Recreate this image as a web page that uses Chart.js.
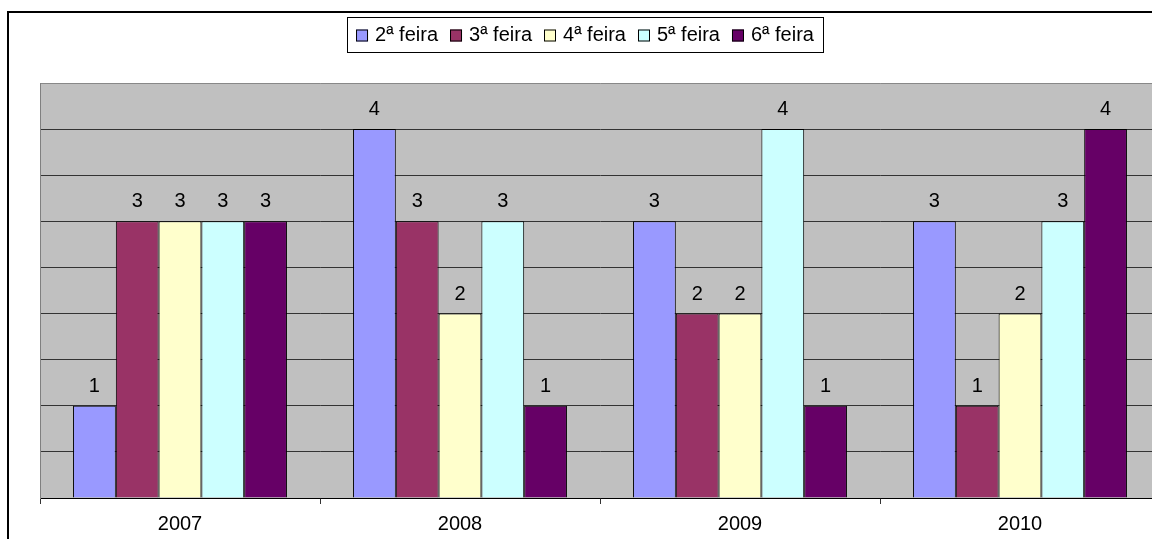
<!DOCTYPE html>
<html>
<head>
<meta charset="utf-8">
<script src="https://cdn.jsdelivr.net/npm/chart.js@4/dist/chart.umd.min.js"></script>
<style>
  html, body { margin: 0; padding: 0; background: #fff; overflow: hidden; }
  #frame { position: absolute; left: 7px; top: 11px; width: 1400px; height: 800px; border: 2px solid #000; }
  #chart { position: absolute; left: 0; top: 0; }
</style>
</head>
<body>
<div id="frame"></div>
<canvas id="chart" width="1200" height="560"></canvas>
<script>
const years = ['2007', '2008', '2009', '2010'];
const seriesNames = ['2ª feira', '3ª feira', '4ª feira', '5ª feira', '6ª feira'];
const segunda = [1, 4, 3, 3];
const terca = [3, 3, 2, 1];
const quarta = [3, 2, 2, 2];
const quinta = [3, 3, 4, 3];
const sexta = [3, 1, 1, 4];
const colors = ['#9999FF', '#993366', '#FFFFCC', '#CCFFFF', '#660066'];

const FONT = '"Liberation Sans", Arial, sans-serif';

const plotBg = {
  id: 'plotBg',
  beforeDraw(chart) {
    const { ctx, chartArea: a } = chart;
    ctx.save();
    ctx.fillStyle = '#C0C0C0';
    ctx.fillRect(a.left, a.top, a.right - a.left, a.bottom - a.top);
    ctx.restore();
  }
};

const barValues = {
  id: 'barValues',
  afterDatasetsDraw(chart) {
    const ctx = chart.ctx;
    ctx.save();
    ctx.font = '20px ' + FONT;
    ctx.fillStyle = '#000';
    ctx.textAlign = 'center';
    ctx.textBaseline = 'alphabetic';
    chart.data.datasets.forEach((ds, i) => {
      chart.getDatasetMeta(i).data.forEach((bar, j) => {
        ctx.fillText(ds.data[j], bar.x, bar.y - 14);
      });
    });
    ctx.restore();
  }
};

// legend with a border, like the spreadsheet one
const boxLegend = {
  id: 'boxLegend',
  afterDraw(chart) {
    const ctx = chart.ctx;
    const boxX = 347, boxY = 17, boxW = 476, boxH = 35;
    ctx.save();
    ctx.font = '20px ' + FONT;
    const gap = 12, sq = 12, sqGap = 7;
    const items = chart.data.datasets.map(ds => ({ label: ds.label, color: ds.backgroundColor, w: ctx.measureText(ds.label).width }));
    const total = items.reduce((s, it) => s + sq + sqGap + it.w, 0) + gap * (items.length - 1);
    ctx.fillStyle = '#fff';
    ctx.fillRect(boxX, boxY, boxW, boxH);
    ctx.strokeStyle = '#000';
    ctx.lineWidth = 1;
    ctx.strokeRect(boxX + 0.5, boxY + 0.5, boxW, boxH);
    let x = boxX + (boxW - total) / 2;
    const cy = boxY + boxH / 2 + 1;
    ctx.textBaseline = 'middle';
    items.forEach(it => {
      ctx.fillStyle = it.color;
      ctx.fillRect(x, cy - sq / 2, sq, sq);
      ctx.strokeStyle = '#000';
      ctx.strokeRect(x + 0.5, cy - sq / 2 + 0.5, sq - 1, sq - 1);
      ctx.fillStyle = '#000';
      ctx.fillText(it.label, x + sq + sqGap, cy);
      x += sq + sqGap + it.w + gap;
    });
    ctx.restore();
  }
};

const values = [segunda, terca, quarta, quinta, sexta];

new Chart(document.getElementById('chart'), {
  type: 'bar',
  data: {
    labels: years,
    datasets: seriesNames.map((name, i) => ({
      label: name,
      data: values[i],
      backgroundColor: colors[i],
      borderColor: '#000',
      borderWidth: 1,
      categoryPercentage: 0.764,
      barPercentage: 1
    }))
  },
  options: {
    responsive: false,
    animation: false,
    devicePixelRatio: 1,
    layout: { padding: { top: 83, left: 40, right: 40, bottom: 16 } },
    plugins: {
      legend: { display: false },
      tooltip: { enabled: false }
    },
    scales: {
      x: {
        grid: { drawOnChartArea: false, drawTicks: true, tickLength: 6, color: '#333', offset: true },
        border: { color: '#000', width: 1 },
        ticks: { color: '#000', font: { family: FONT, size: 20 }, padding: 8 }
      },
      y: {
        min: 0,
        max: 4.5,
        ticks: { stepSize: 0.5, display: false },
        grid: {
          drawTicks: false,
          color: c => c.tick && c.tick.value === 4.5 ? '#888' : '#333'
        },
        border: { color: '#808080' }
      }
    }
  },
  plugins: [plotBg, barValues, boxLegend]
});
</script>
</body>
</html>
